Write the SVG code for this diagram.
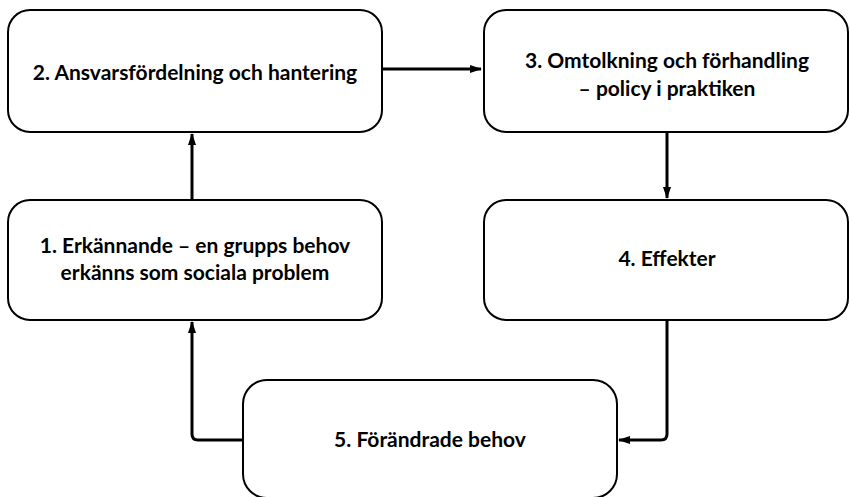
<svg xmlns="http://www.w3.org/2000/svg" width="850" height="497" viewBox="0 0 850 497">
<style>
.box{fill:#fff;stroke:#000;stroke-width:2}
.lbl{font-family:Lato,"Open Sans","Liberation Sans",sans-serif;font-weight:bold;font-size:21px;fill:#000;text-anchor:middle}
.con{fill:none;stroke:#000;stroke-width:3;stroke-linejoin:round}
</style>
<defs>
<marker id="ah" markerWidth="12" markerHeight="10" refX="11" refY="5" orient="auto" markerUnits="userSpaceOnUse">
<path d="M0,1 L12,5 L0,9 Z" fill="#000"/>
</marker>
</defs>
<g id="connectors">
<path class="con" d="M382,69 L481,69" marker-end="url(#ah)"/>
<path class="con" d="M192,200 L192,134" marker-end="url(#ah)"/>
<path class="con" d="M667,132 L667,198" marker-end="url(#ah)"/>
<path class="con" d="M667,320 L667,434 Q667,440 661,440 L619,440" marker-end="url(#ah)"/>
<path class="con" d="M243,440 L198,440 Q192,440 192,434 L192,322" marker-end="url(#ah)"/>
</g>
<g id="node2">
<rect class="box" x="8" y="10" width="374" height="122" rx="22"/>
<text class="lbl" x="195" y="80">2. Ansvarsfördelning och hantering</text>
</g>
<g id="node3">
<rect class="box" x="484" y="10" width="364" height="122" rx="22"/>
<text class="lbl" x="667" y="68">3. Omtolkning och förhandling</text>
<text class="lbl" x="667" y="96">– policy i praktiken</text>
</g>
<g id="node1">
<rect class="box" x="8" y="200" width="374" height="120" rx="22"/>
<text class="lbl" x="195" y="253">1. Erkännande – en grupps behov</text>
<text class="lbl" x="195" y="280">erkänns som sociala problem</text>
</g>
<g id="node4">
<rect class="box" x="484" y="200" width="364" height="120" rx="22"/>
<text class="lbl" x="667" y="266">4. Effekter</text>
</g>
<g id="node5">
<rect class="box" x="243" y="380" width="374" height="118" rx="24"/>
<text class="lbl" x="430" y="447">5. Förändrade behov</text>
</g>
</svg>
